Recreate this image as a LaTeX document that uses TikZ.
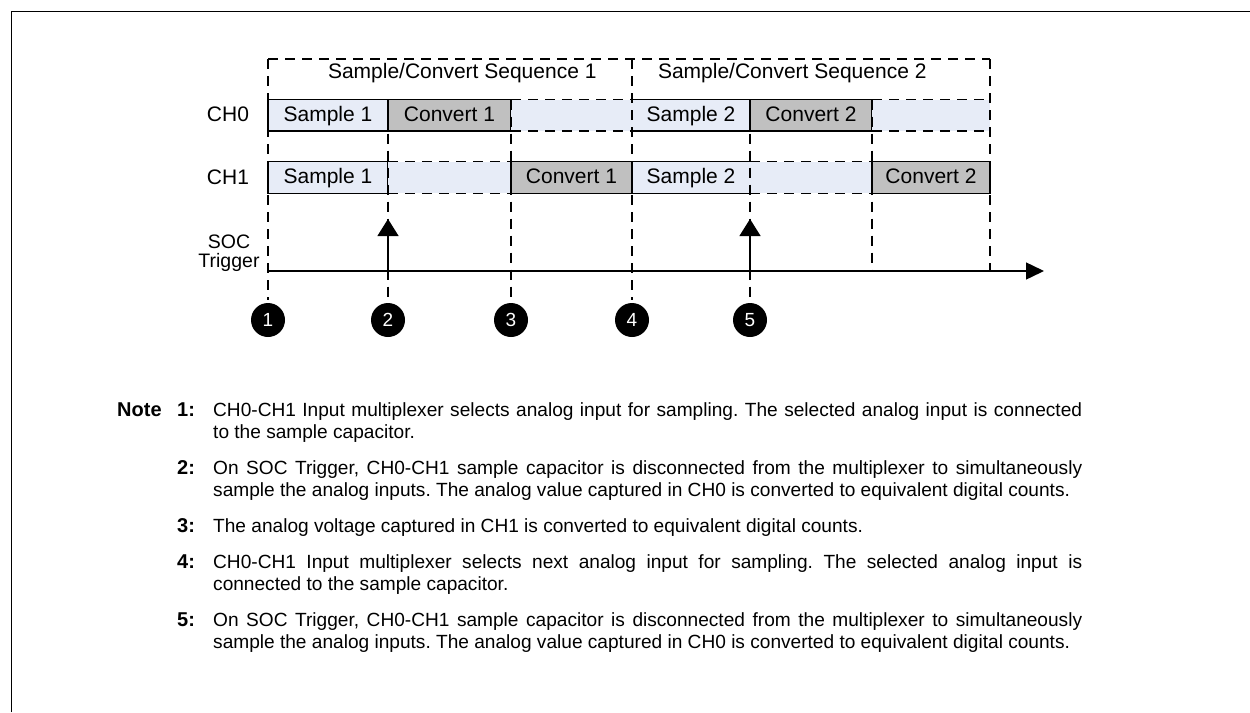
\documentclass[tikz,border=0pt]{standalone}
\usepackage{fontspec}
\setmainfont{Liberation Sans}
\usetikzlibrary{arrows.meta}
\definecolor{cellblue}{RGB}{231,236,247}
\definecolor{cellgray}{RGB}{192,192,192}
\newcommand\notesetup{\frenchspacing\tolerance=10000\relax\hyphenpenalty=10000\relax}
\begin{document}
\begin{tikzpicture}[x=1pt,y=-1pt,
  dashln/.style={line width=1.1pt,dash pattern=on 10pt off 7pt},
  solidln/.style={line width=1.3pt},
  lbl/.style={font=\fontsize{21}{22}\selectfont,inner sep=0pt,outer sep=0pt},
  cellbase/.style={lbl,minimum height=31.5pt,outer sep=0pt,inner sep=0pt,text height=16pt,text depth=4pt},
  samplecell/.style={cellbase,fill=cellblue,draw=black,line width=1.3pt},
  convcell/.style={cellbase,fill=cellgray,draw=black,line width=1.3pt},
  idlecell/.style={cellbase,fill=cellblue},
  numcirc/.style={circle,fill=black,minimum size=34pt,inner sep=0pt,text=white,font=\fontsize{19}{19}\selectfont},
  notetext/.style={anchor=base west,inner sep=0pt,text width=869pt,align=justify,font=\fontsize{19.1}{22}\selectfont},
  notelbl/.style={anchor=base west,inner sep=0pt,font=\fontsize{20}{22}\selectfont\bfseries},
  trig/.style={line width=1.3pt,-{Triangle[width=21pt,length=17pt]}},
  axisln/.style={line width=1.4pt,-{Triangle[width=17pt,length=18pt]}}
]
\useasboundingbox (0,0) rectangle (1250,712);

% frame
\draw[line width=1.5pt] (11.5,712) -- (11.5,11.5) -- (1250,11.5);

% CH0 row
\node[samplecell,minimum width=120pt] (c0a) at (328,115.25) {Sample 1};
\node[convcell,minimum width=123pt] (c0b) at (449.5,115.25) {Convert 1};
\node[idlecell,minimum width=121pt] (c0c) at (571.5,115.25) {};
\node[idlecell,minimum width=118pt] (c0d) at (691,115.25) {Sample 2};
\node[convcell,minimum width=122pt] (c0e) at (811,115.25) {Convert 2};
\node[idlecell,minimum width=118pt] (c0f) at (931,115.25) {};

% CH1 row
\node[samplecell,minimum width=120pt] (c1a) at (328,177.5) {Sample 1};
\node[idlecell,minimum width=123pt] (c1b) at (449.5,177.5) {};
\node[convcell,minimum width=121pt] (c1c) at (571.5,177.5) {Convert 1};
\node[idlecell,minimum width=118pt] (c1d) at (691,177.5) {Sample 2};
\node[idlecell,minimum width=122pt] (c1e) at (811,177.5) {};
\node[convcell,minimum width=118pt] (c1f) at (931,177.5) {Convert 2};

% partial solid borders
\draw[solidln] (c0d.north west) -- (c0d.north east) -- (c0d.south east) -- (c0d.south west);
\draw[solidln] (c1d.north east) -- (c1d.north west) -- (c1d.south west) -- (c1d.south east);

% dashed borders of idle cells
\foreach \c in {c0c,c0f,c1b,c1e}{
  \draw[dashln] (\c.north west) -- (\c.north east);
  \draw[dashln] (\c.south west) -- (\c.south east);
}

% time grid
\coordinate (v1t) at (268,59);   \coordinate (v1b) at (268,300);
\coordinate (v2t) at (388,99.5); \coordinate (v2b) at (388,300);
\coordinate (v3t) at (511,99.5); \coordinate (v3b) at (511,300);
\coordinate (v4t) at (632,59);   \coordinate (v4b) at (632,300);
\coordinate (v5t) at (750,99.5); \coordinate (v5b) at (750,300);
\coordinate (v6t) at (872,99.5); \coordinate (v6b) at (872,271);
\coordinate (v7t) at (990,59);   \coordinate (v7b) at (990,271);
\draw[dashln] (v1t) -- (v7t);
\foreach \i in {1,...,7}{\draw[dashln] (v\i t) -- (v\i b);}

% axis and triggers
\coordinate (ax0) at (268,271);
\coordinate (ax1) at (1044,271);
\draw[axisln] (ax0) -- (ax1);
\coordinate (tra) at (388,271); \coordinate (trat) at (388,219);
\coordinate (trb) at (750,271); \coordinate (trbt) at (750,219);
\draw[trig] (tra) -- (trat);
\draw[trig] (trb) -- (trbt);

% labels
\node[lbl,anchor=base west] (seq1) at (328,78.5) {Sample/Convert Sequence 1};
\node[lbl,anchor=base west] (seq2) at (658,78.5) {Sample/Convert Sequence 2};
\node[lbl] (ch0) at (228,114) {CH0};
\node[lbl] (ch1) at (228,177) {CH1};
\node[lbl,align=center,anchor=south,font=\fontsize{19.5}{19}\selectfont] (soc) at (229,272) {SOC\\Trigger};

% numbered markers
\node[numcirc] (m1) at (268,320) {1};
\node[numcirc] (m2) at (388,320) {2};
\node[numcirc] (m3) at (511,320) {3};
\node[numcirc] (m4) at (632,320) {4};
\node[numcirc] (m5) at (750,320) {5};

% notes
\node[notelbl] (nlab) at (117,416) {Note};
\node[notelbl] (l1) at (177,416) {1:};
\node[notelbl] (l2) at (177,474) {2:};
\node[notelbl] (l3) at (177,532) {3:};
\node[notelbl] (l4) at (177,568) {4:};
\node[notelbl] (l5) at (177,626) {5:};
\node[notetext] (n1) at (213,416) {\notesetup CH0-CH1 Input multiplexer selects analog input for sampling. The selected analog input is connected\linebreak to the sample capacitor.};
\node[notetext] (n2) at (213,474) {\notesetup On SOC Trigger, CH0-CH1 sample capacitor is disconnected from the multiplexer to simultaneously\linebreak sample the analog inputs. The analog value captured in CH0 is converted to equivalent digital counts.};
\node[notetext] (n3) at (213,532) {\notesetup The analog voltage captured in CH1 is converted to equivalent digital counts.};
\node[notetext] (n4) at (213,568) {\notesetup CH0-CH1 Input multiplexer selects next analog input for sampling. The selected analog input is\linebreak connected to the sample capacitor.};
\node[notetext] (n5) at (213,626) {\notesetup On SOC Trigger, CH0-CH1 sample capacitor is disconnected from the multiplexer to simultaneously\linebreak sample the analog inputs. The analog value captured in CH0 is converted to equivalent digital counts.};
\end{tikzpicture}
\end{document}
